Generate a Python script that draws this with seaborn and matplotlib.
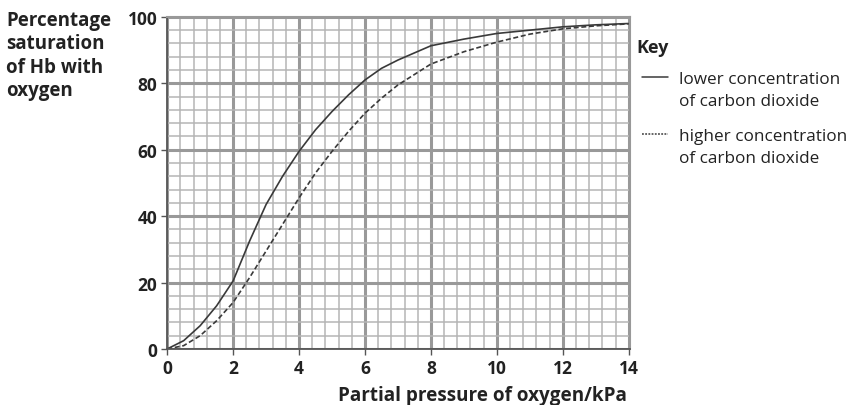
import numpy as np
import pandas as pd
import seaborn as sns
import matplotlib.pyplot as plt
from matplotlib.lines import Line2D
from matplotlib.ticker import MultipleLocator

# datos
pressure = [0, 0.5, 1, 1.5, 2, 2.5, 3, 3.5, 4, 4.5, 5, 5.5, 6, 6.5, 7, 8, 9, 10, 11, 12, 13, 14]
low_co2 = [0, 2.5, 7, 13, 20.5, 32.5, 43.5, 52, 59.5, 66, 71.5, 76.5, 81, 84.5, 87, 91.3, 93.3, 95, 96, 97, 97.6, 98]
high_co2 = [0, 1, 4, 8.5, 14, 21.5, 29.5, 37.5, 45.5, 53, 59.5, 65.5, 71, 75.5, 79.5, 85.8, 89.5, 92.4, 94.8, 96.4, 97.3, 97.9]
x_ticks = [0, 2, 4, 6, 8, 10, 12, 14]
y_ticks = [0, 20, 40, 60, 80, 100]
labels = ['lower concentration\nof carbon dioxide', 'higher concentration\nof carbon dioxide']

df = pd.DataFrame({'x': pressure * 2,
                   'y': low_co2 + high_co2,
                   'serie': [labels[0]] * len(pressure) + [labels[1]] * len(pressure)})

sns.set_style('white')
plt.rcParams['font.family'] = ['Open Sans', 'DejaVu Sans']
txt_color = '#222222'
line_color = '#3a3a3a'

fig = plt.figure(figsize=(8.53, 4.06), dpi=100)
ax = fig.add_axes([0.196, 0.138, 0.543, 0.818])

# cuadricula tipo papel milimetrado
ax.xaxis.set_minor_locator(MultipleLocator(0.4))
ax.yaxis.set_minor_locator(MultipleLocator(4))
ax.grid(which='minor', color='#b5b5b5', linewidth=1.1)
ax.grid(which='major', color='#999999', linewidth=2.2)
ax.set_axisbelow(True)

sns.lineplot(data=df, x='x', y='y', hue='serie', style='serie',
             palette=[line_color, line_color], dashes=[(1, 0), (3, 1.6)],
             linewidth=1.2, ax=ax, legend=False)

ax.set_xlim(0, 14.05)
ax.set_ylim(0, 100)
ax.set_xticks(x_ticks)
ax.set_yticks(y_ticks)
ax.tick_params(which='major', direction='out', length=4, width=1, color='#555555',
               labelsize=12.5, pad=3)
ax.tick_params(which='minor', length=0)
ax.tick_params(axis='both', which='major', left=True, bottom=True)
for lab in ax.get_xticklabels() + ax.get_yticklabels():
    lab.set_fontweight('bold')
    lab.set_color(txt_color)

for s in ['left', 'bottom']:
    ax.spines[s].set_color('#555555')
    ax.spines[s].set_linewidth(1.3)
for s in ['top', 'right']:
    ax.spines[s].set_color('#999999')
    ax.spines[s].set_linewidth(1.5)

ax.set_xlabel('')
ax.set_ylabel('')
fig.text(0.566, 0.025, 'Partial pressure of oxygen/kPa', ha='center', va='center',
         fontsize=13.6, fontweight='bold', color=txt_color)
fig.text(0.007, 0.973, 'Percentage\nsaturation\nof Hb with\noxygen', ha='left', va='top',
         fontsize=13.5, fontweight='bold', color=txt_color, linespacing=1.22)

# leyenda ("Key"): la muestra de linea va alineada con la primera linea del texto
fig.text(0.746, 0.882, 'Key', ha='left', va='center', fontsize=13,
         fontweight='bold', color=txt_color)
key_dashes = [None, (1.2, 0.9)]
key_line_y = [0.808, 0.667]
key_text_y = [0.776, 0.635]
for lab, d, ly, ty in zip(labels, key_dashes, key_line_y, key_text_y):
    ln = Line2D([0.753, 0.783], [ly, ly], transform=fig.transFigure,
                color=line_color, lw=1.1)
    if d is not None:
        ln.set_dashes(d)
    fig.add_artist(ln)
    fig.text(0.796, ty, lab, ha='left', va='center', fontsize=12.3,
             color=txt_color, linespacing=1.48)

fig.savefig('out.png', dpi=100)
